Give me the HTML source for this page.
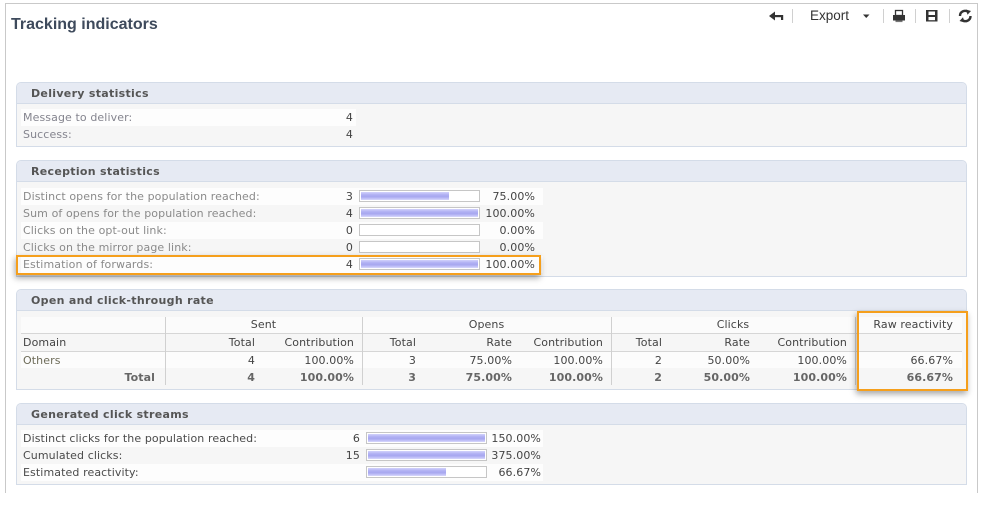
<!DOCTYPE html>
<html><head><meta charset="utf-8">
<style>
*{margin:0;padding:0;box-sizing:border-box}
html,body{width:1003px;height:509px}
body{background:#fff;position:relative;overflow:hidden;font-family:"DejaVu Sans","Liberation Sans",sans-serif;font-size:11px;color:#444;letter-spacing:0.1px}
.a{position:absolute;white-space:nowrap;line-height:17px;height:17px}
.frame{position:absolute;left:5px;top:3px;width:973px;height:490px;border:1px solid #c9c9c9;border-bottom:none}
.panel{position:absolute;left:16px;width:951px;border:1px solid #d4dce8;background:#f6f6f6;border-radius:5px 5px 0 0}
.ph{position:absolute;left:0;top:0;right:0;height:21px;background:#e6eaf3;border-bottom:1px solid #d4dce8;border-radius:4px 4px 0 0;font-weight:bold;color:#555;padding-left:14px;line-height:21px;letter-spacing:0.3px}
.rowbg{position:absolute;background:#fdfdfd}
.lbl{color:#8a8a8a}
.lbl2{color:#4a4a4a}
.box{position:absolute;width:121px;height:12px;border:1px solid #c6c6c6;background:#fff}
.fill{position:absolute;left:1px;top:1px;height:8px;background:linear-gradient(#d2d2fb 0%,#b0b0f3 35%,#a8a8f0 60%,#c4c4f8 85%,#d8d8fc 100%)}
.sep{position:absolute;width:1px;background:#d0d0d0}
.hl{position:absolute;height:1px;background:#d6d6d6}
.b{font-weight:bold;color:#666}
.orange{position:absolute;border:2px solid #f59f1c;box-shadow:-1px 3px 6px rgba(0,0,0,0.35)}
</style></head>
<body>
<div class="frame"></div>

<!-- Title -->
<div style="position:absolute;left:11px;top:15px;font-family:'Liberation Sans',sans-serif;font-weight:bold;font-size:16px;line-height:20px;color:#3e4a5c;letter-spacing:0">Tracking indicators</div>

<!-- Toolbar -->
<svg style="position:absolute;left:760px;top:2px" width="220" height="30" viewBox="760 2 220 30">
  <path d="M769 16 L775 11.5 L775 20.5 Z" fill="#333"/>
  <rect x="774" y="15" width="9" height="2.2" fill="#333"/>
  <rect x="781" y="15" width="2.2" height="5" fill="#333"/>
  <rect x="792" y="9" width="1" height="14" fill="#d0d0d0"/>
  <path d="M863 14.5 L869.5 14.5 L866.25 18 Z" fill="#333"/>
  <rect x="883" y="9" width="1" height="14" fill="#d0d0d0"/>
  <rect x="895.5" y="10.5" width="7" height="5" fill="none" stroke="#333" stroke-width="1.3"/>
  <rect x="893" y="15" width="12" height="5.5" fill="#333"/>
  <rect x="895.5" y="20.5" width="7" height="1.6" fill="#777"/>
  <rect x="915" y="9" width="1" height="14" fill="#d0d0d0"/>
  <rect x="926" y="10" width="11.5" height="11.5" fill="#333"/>
  <rect x="928.5" y="11.5" width="6.5" height="3.5" fill="#fff"/>
  <rect x="928.5" y="17" width="6.5" height="3.2" fill="#fff"/>
  <rect x="949" y="9" width="1" height="14" fill="#d0d0d0"/>
  <path d="M960 16 A5 5 0 0 1 968.5 12.3" fill="none" stroke="#333" stroke-width="2.4"/>
  <path d="M966 9.5 L971 11 L967.5 14.8 Z" fill="#333"/>
  <path d="M970.5 16 A5 5 0 0 1 962 19.7" fill="none" stroke="#333" stroke-width="2.4"/>
  <path d="M964.5 22.5 L959.5 21 L963 17.2 Z" fill="#333"/>
</svg>
<div style="position:absolute;left:810px;top:7px;font-family:'Liberation Sans',sans-serif;font-size:13.5px;line-height:18px;color:#333;letter-spacing:0">Export</div>

<!-- Delivery statistics -->
<div class="panel" style="top:82px;height:65px"><div class="ph">Delivery statistics</div></div>
<div class="rowbg" style="left:21px;top:109px;width:335px;height:17px"></div>
<div class="a lbl" style="left:23px;top:109px;color:#84848e">Message to deliver:</div>
<div class="a" style="right:650px;top:109px">4</div>
<div class="a lbl" style="left:23px;top:126px;color:#84848e">Success:</div>
<div class="a" style="right:650px;top:126px">4</div>

<!-- Reception statistics -->
<div class="panel" style="top:160px;height:117px"><div class="ph">Reception statistics</div></div>
<div class="rowbg" style="left:21px;top:188px;width:522px;height:17px"></div>
<div class="rowbg" style="left:21px;top:222px;width:522px;height:17px"></div>
<div class="rowbg" style="left:21px;top:256px;width:522px;height:17px"></div>

<div class="a lbl" style="left:23px;top:188px">Distinct opens for the population reached:</div>
<div class="a" style="right:650px;top:188px">3</div>
<div class="box" style="left:359px;top:190px"><div class="fill" style="width:88px"></div></div>
<div class="a" style="right:468px;top:188px">75.00%</div>

<div class="a lbl" style="left:23px;top:205px">Sum of opens for the population reached:</div>
<div class="a" style="right:650px;top:205px">4</div>
<div class="box" style="left:359px;top:207px"><div class="fill" style="width:117px"></div></div>
<div class="a" style="right:468px;top:205px">100.00%</div>

<div class="a lbl" style="left:23px;top:222px">Clicks on the opt-out link:</div>
<div class="a" style="right:650px;top:222px">0</div>
<div class="box" style="left:359px;top:224px"></div>
<div class="a" style="right:468px;top:222px">0.00%</div>

<div class="a lbl" style="left:23px;top:239px">Clicks on the mirror page link:</div>
<div class="a" style="right:650px;top:239px">0</div>
<div class="box" style="left:359px;top:241px"></div>
<div class="a" style="right:468px;top:239px">0.00%</div>

<div class="a lbl" style="left:23px;top:256px">Estimation of forwards:</div>
<div class="a" style="right:650px;top:256px">4</div>
<div class="box" style="left:359px;top:258px"><div class="fill" style="width:117px"></div></div>
<div class="a" style="right:468px;top:256px">100.00%</div>

<div class="orange" style="left:16px;top:255px;width:525px;height:20px"></div>

<!-- Open and click-through rate -->
<div class="panel" style="top:289px;height:101px"><div class="ph">Open and click-through rate</div></div>
<div class="rowbg" style="left:21px;top:317px;width:941px;height:16px;background:#fbfbfb"></div>
<div class="rowbg" style="left:21px;top:351px;width:941px;height:17px;background:#fcfcfc"></div>
<div class="hl" style="left:21px;top:333px;width:941px"></div>
<div class="hl" style="left:21px;top:351px;width:941px"></div>
<div class="sep" style="left:165px;top:317px;height:68px"></div>
<div class="sep" style="left:362px;top:317px;height:68px"></div>
<div class="sep" style="left:611px;top:317px;height:68px"></div>
<div class="sep" style="left:855px;top:317px;height:68px"></div>

<!-- row 1 -->
<div class="a" style="left:165px;width:197px;text-align:center;top:317px;line-height:16px">Sent</div>
<div class="a" style="left:362px;width:249px;text-align:center;top:317px;line-height:16px">Opens</div>
<div class="a" style="left:611px;width:244px;text-align:center;top:317px;line-height:16px">Clicks</div>
<div class="a" style="right:50px;top:317px;line-height:16px">Raw reactivity</div>
<!-- row 2 -->
<div class="a" style="left:23px;top:334px">Domain</div>
<div class="a" style="right:748px;top:334px">Total</div>
<div class="a" style="right:649px;top:334px">Contribution</div>
<div class="a" style="right:587px;top:334px">Total</div>
<div class="a" style="right:491px;top:334px">Rate</div>
<div class="a" style="right:400px;top:334px">Contribution</div>
<div class="a" style="right:341px;top:334px">Total</div>
<div class="a" style="right:253px;top:334px">Rate</div>
<div class="a" style="right:156px;top:334px">Contribution</div>
<!-- row 3 -->
<div class="a" style="left:23px;top:352px;color:#6d6b58">Others</div>
<div class="a" style="right:748px;top:352px">4</div>
<div class="a" style="right:649px;top:352px">100.00%</div>
<div class="a" style="right:587px;top:352px">3</div>
<div class="a" style="right:491px;top:352px">75.00%</div>
<div class="a" style="right:400px;top:352px">100.00%</div>
<div class="a" style="right:341px;top:352px">2</div>
<div class="a" style="right:253px;top:352px">50.00%</div>
<div class="a" style="right:156px;top:352px">100.00%</div>
<div class="a" style="right:50px;top:352px">66.67%</div>
<!-- row 4 -->
<div class="a b" style="right:848px;top:369px">Total</div>
<div class="a b" style="right:748px;top:369px">4</div>
<div class="a b" style="right:649px;top:369px">100.00%</div>
<div class="a b" style="right:587px;top:369px">3</div>
<div class="a b" style="right:491px;top:369px">75.00%</div>
<div class="a b" style="right:400px;top:369px">100.00%</div>
<div class="a b" style="right:341px;top:369px">2</div>
<div class="a b" style="right:253px;top:369px">50.00%</div>
<div class="a b" style="right:156px;top:369px">100.00%</div>
<div class="a b" style="right:50px;top:369px">66.67%</div>

<div class="orange" style="left:857px;top:311px;width:111px;height:80px"></div>

<!-- Generated click streams -->
<div class="panel" style="top:403px;height:82px"><div class="ph">Generated click streams</div></div>
<div class="rowbg" style="left:21px;top:430px;width:522px;height:17px"></div>
<div class="rowbg" style="left:21px;top:464px;width:522px;height:17px"></div>

<div class="a lbl2" style="left:23px;top:430px">Distinct clicks for the population reached:</div>
<div class="a" style="right:643px;top:430px">6</div>
<div class="box" style="left:366px;top:432px"><div class="fill" style="width:117px"></div></div>
<div class="a" style="right:462px;top:430px">150.00%</div>

<div class="a lbl2" style="left:23px;top:447px">Cumulated clicks:</div>
<div class="a" style="right:643px;top:447px">15</div>
<div class="box" style="left:366px;top:449px"><div class="fill" style="width:117px"></div></div>
<div class="a" style="right:462px;top:447px">375.00%</div>

<div class="a lbl2" style="left:23px;top:464px">Estimated reactivity:</div>
<div class="box" style="left:366px;top:466px"><div class="fill" style="width:78px"></div></div>
<div class="a" style="right:462px;top:464px">66.67%</div>

</body></html>
